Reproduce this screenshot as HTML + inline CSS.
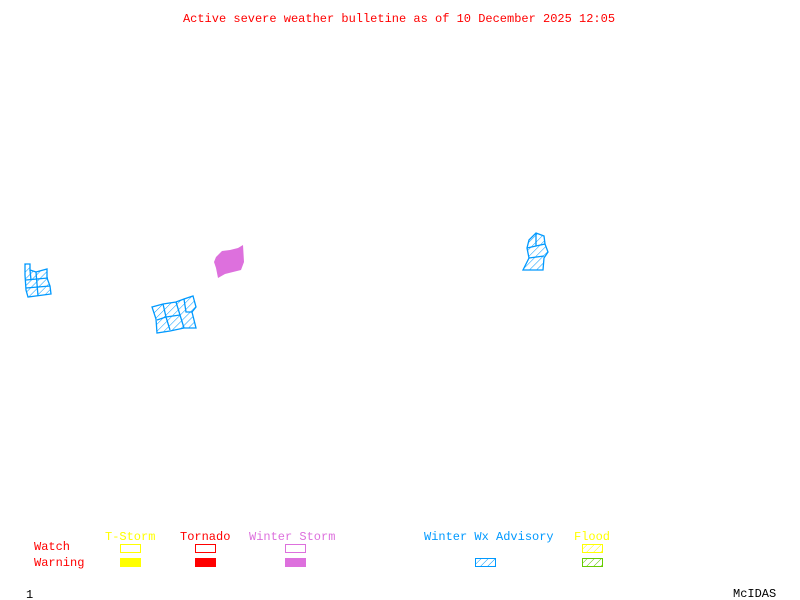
<!DOCTYPE html>
<html><head><style>
html,body{margin:0;padding:0;background:#fff;}
svg{display:block;}
text{font-family:"Liberation Mono","DejaVu Sans Mono",monospace;font-size:12px;}
</style></head><body>
<svg width="800" height="600" viewBox="0 0 800 600" xmlns="http://www.w3.org/2000/svg">
<defs>
<pattern id="hb" width="5" height="5" patternUnits="userSpaceOnUse" patternTransform="rotate(45)">
<line x1="0" y1="0" x2="0" y2="5" stroke="#0099ff" stroke-width="1"/></pattern>
<pattern id="hy" width="5" height="5" patternUnits="userSpaceOnUse" patternTransform="rotate(45)">
<line x1="0" y1="0" x2="0" y2="5" stroke="#ffff00" stroke-width="1"/></pattern>
<pattern id="hg" width="5" height="5" patternUnits="userSpaceOnUse" patternTransform="rotate(45)">
<line x1="0" y1="0" x2="0" y2="5" stroke="#66cc00" stroke-width="1"/></pattern>
</defs>
<text x="399" y="22" fill="#ff0000" text-anchor="middle" style="font-size:12px">Active severe weather bulletine as of 10 December 2025 12:05</text>

<polygon points="216,257 222,251 230,250 238,248 243,245 244,262 241,270 225,274 218,278 216,268 214,262" fill="#dd70dd"/>

<g fill="url(#hb)" stroke="#0099ff" stroke-width="1.3">
<polygon points="152,307 163,304 176,302 184,299 193,296 196,307 192,312 196,328 184,328 170,331 157,333 156,319"/>
<path d="M163,304 L166,317 L157,320 M166,317 L170,330 M176,302 L180,315 L166,317 M180,315 L184,328 M184,299 L186,312 L192,312" fill="none"/>
<polygon points="25,264 30,264 30,270 36,272 47,269 47,278 50,286 51,294 28,297 26,290 25,275"/>
<path d="M26,280 L48,278 M26,288 L50,286 M36,272 L38,296 M30,270 L31,280" fill="none"/>
<polygon points="529,240 536,233 544,236 545,244 548,252 544,258 543,270 523,270 529,258 527,248"/>
<path d="M527,248 L545,244 M529,258 L544,256 M536,233 L536,246" fill="none"/>
</g>

<text x="34" y="550" fill="#ff0000">Watch</text>
<text x="34" y="566" fill="#ff0000">Warning</text>
<text x="105" y="540" fill="#ffff00">T-Storm</text>
<text x="180" y="540" fill="#ff0000">Tornado</text>
<text x="249" y="540" fill="#dd70dd">Winter Storm</text>
<text x="424" y="540" fill="#0099ff">Winter Wx Advisory</text>
<text x="574" y="540" fill="#ffff00">Flood</text>

<rect x="120.5" y="544.5" width="20" height="8" fill="none" stroke="#ffff00"/>
<rect x="120" y="558" width="21" height="9" fill="#ffff00"/>
<rect x="195.5" y="544.5" width="20" height="8" fill="none" stroke="#ff0000"/>
<rect x="195" y="558" width="21" height="9" fill="#ff0000"/>
<rect x="285.5" y="544.5" width="20" height="8" fill="none" stroke="#dd70dd"/>
<rect x="285" y="558" width="21" height="9" fill="#dd70dd"/>
<rect x="475.5" y="558.5" width="20" height="8" fill="url(#hb)" stroke="#0099ff"/>
<rect x="582.5" y="544.5" width="20" height="8" fill="url(#hy)" stroke="#ffff00"/>
<rect x="582.5" y="558.5" width="20" height="8" fill="url(#hg)" stroke="#66cc00"/>

<text x="26" y="598" fill="#000">1</text>
<text x="733" y="597" fill="#000">McIDAS</text>
</svg>
</body></html>
